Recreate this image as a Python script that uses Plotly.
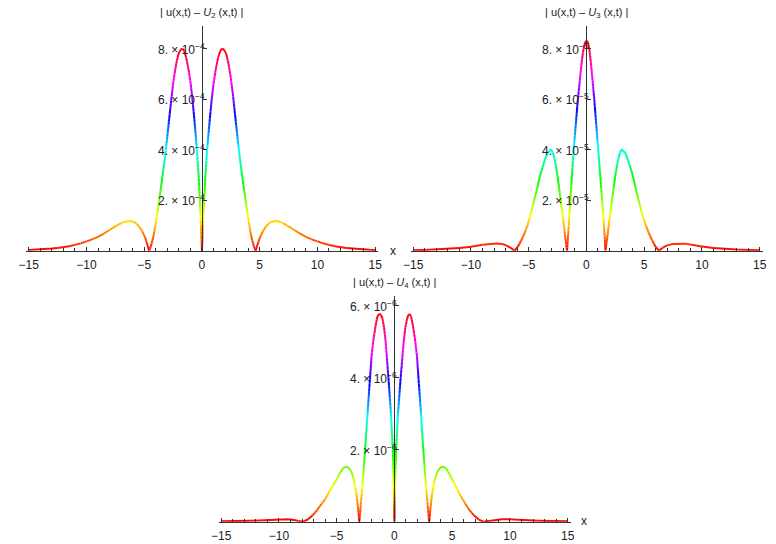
import math
import colorsys
import numpy as np
import plotly.graph_objects as go

W, H = 776, 544

# |u(x,t) - U2(x,t)|, values in units of 1e-4
u2_x = [-15, -14.5, -14, -13.5, -13, -12.5, -12, -11.5, -11, -10.5, -10, -9.5, -9, -8.5, -8, -7.5, -7,
        -6.6, -6.25, -5.9, -5.65, -5.4, -5.15, -4.9, -4.72, -4.58,
        -4.43, -4.23, -4.03, -3.83, -3.63, -3.43, -3.23, -3.03, -2.83, -2.63, -2.43, -2.23, -2.03, -1.83, -1.7,
        -1.55, -1.37, -1.17, -0.97, -0.78, -0.58, -0.44, -0.29, -0.19, -0.1, -0.05, 0,
        0.05, 0.1, 0.2, 0.3, 0.45, 0.6, 0.8, 1.0, 1.2, 1.4, 1.6, 1.75,
        1.9, 2.1, 2.3, 2.5, 2.7, 2.9, 3.1, 3.3, 3.5, 3.7, 3.9, 4.1, 4.3, 4.5, 4.65,
        4.8, 5.0, 5.25, 5.5, 5.75, 6.0, 6.35, 6.7, 7.0,
        7.5, 8, 8.5, 9, 9.5, 10, 10.5, 11, 11.5, 12, 12.5, 13, 13.5, 14, 14.5, 15]
u2_y = [0.03, 0.038, 0.05, 0.065, 0.085, 0.11, 0.14, 0.18, 0.23, 0.29, 0.37, 0.45, 0.55, 0.68, 0.82, 0.96, 1.09,
        1.16, 1.18, 1.14, 1.06, 0.93, 0.75, 0.5, 0.22, 0,
        0.17, 0.5, 1.0, 1.6, 2.25, 2.9, 3.6, 4.4, 5.25, 6.1, 6.85, 7.4, 7.8, 7.97, 8.0,
        7.93, 7.65, 7.2, 6.6, 5.8, 4.8, 4.0, 3.0, 2.1, 1.2, 0.6, 0,
        0.6, 1.2, 2.1, 3.0, 4.0, 4.8, 5.8, 6.6, 7.2, 7.65, 7.93, 8.0,
        7.97, 7.8, 7.4, 6.85, 6.1, 5.25, 4.4, 3.6, 2.9, 2.25, 1.6, 1.0, 0.5, 0.17, 0,
        0.22, 0.5, 0.75, 0.93, 1.06, 1.14, 1.18, 1.15, 1.09,
        0.96, 0.82, 0.68, 0.55, 0.45, 0.37, 0.29, 0.23, 0.18, 0.14, 0.11, 0.085, 0.065, 0.05, 0.038, 0.03]

# |u(x,t) - U3(x,t)|, values in units of 1e-5
u3_x = [-15, -14, -13, -12, -11.5, -11, -10.5, -10, -9.5, -9, -8.5, -8.0, -7.78, -7.3, -6.9, -6.55, -6.22,
        -5.95, -5.65, -5.35, -5.1, -4.8, -4.52, -4.25, -4.0, -3.7, -3.4, -3.1, -3.0, -2.85, -2.7, -2.55,
        -2.4, -2.24, -2.1, -1.95, -1.82, -1.68,
        -1.6, -1.52, -1.39, -1.25, -1.1, -0.92, -0.74, -0.6, -0.45, -0.3, -0.18, -0.05,
        0.05, 0.15, 0.25, 0.35, 0.48, 0.58, 0.68, 0.85, 1.02, 1.2, 1.36, 1.5, 1.58, 1.65,
        1.8, 1.95, 2.1, 2.25, 2.4, 2.55, 2.7, 2.85, 3.0, 3.1, 3.4, 3.7, 4.0, 4.25, 4.52, 4.8, 5.14,
        5.4, 5.7, 6.0, 6.28,
        6.6, 7.0, 7.5, 8.0, 8.5, 9.0, 9.5, 10, 10.5, 11, 11.5, 12, 13, 14, 15]
u3_y = [0.02, 0.03, 0.045, 0.07, 0.085, 0.105, 0.13, 0.16, 0.2, 0.24, 0.27, 0.285, 0.29, 0.27, 0.2, 0.11, 0,
        0.15, 0.4, 0.7, 1.0, 1.5, 2.0, 2.5, 3.0, 3.45, 3.85, 4.0, 3.97, 3.8, 3.5, 3.1,
        2.6, 2.05, 1.55, 1.0, 0.5, 0,
        0.5, 1.1, 2.0, 3.0, 4.0, 5.0, 6.0, 6.6, 7.3, 7.85, 8.15, 8.3,
        8.32, 8.22, 7.98, 7.6, 7.0, 6.5, 6.0, 5.0, 4.0, 2.95, 2.0, 1.15, 0.6, 0,
        0.5, 1.05, 1.6, 2.1, 2.65, 3.1, 3.5, 3.8, 3.97, 4.0, 3.85, 3.45, 3.0, 2.5, 2.0, 1.5, 1.0,
        0.7, 0.4, 0.15, 0,
        0.12, 0.21, 0.27, 0.29, 0.28, 0.25, 0.21, 0.17, 0.14, 0.11, 0.09, 0.07, 0.045, 0.03, 0.02]

# |u(x,t) - U4(x,t)|, values in units of 1e-6
u4_x = [-15, -13.5, -12.5, -11.5, -10.5, -9.9, -9.3, -8.7, -8.3, -7.93,
        -7.5, -7.1, -6.7, -6.3, -6.0, -5.7, -5.4, -5.1, -4.8, -4.5, -4.23, -3.95, -3.7, -3.48, -3.28, -3.13, -3.04,
        -2.92, -2.77, -2.54, -2.33, -2.1, -1.98, -1.84, -1.63, -1.48, -1.35, -1.25, -1.16, -1.04, -0.9, -0.76,
        -0.52, -0.3, -0.14, -0.06, -0.03, 0,
        0.03, 0.06, 0.14, 0.31, 0.54, 0.8, 0.95, 1.1, 1.22, 1.31, 1.45, 1.6, 1.81, 1.95, 2.07, 2.3, 2.5, 2.73,
        2.88, 3.01,
        3.1, 3.25, 3.45, 3.7, 3.95, 4.23, 4.5, 4.8, 5.1, 5.34, 5.6, 5.9, 6.14, 6.5, 6.9, 7.3, 7.7,
        8.2, 8.7, 9.3, 9.9, 10.5, 11.5, 12.5, 13.5, 15]
u4_y = [0.01, 0.015, 0.025, 0.04, 0.06, 0.07, 0.07, 0.05, 0.02, 0,
        0.06, 0.17, 0.32, 0.5, 0.62, 0.8, 0.97, 1.12, 1.3, 1.47, 1.53, 1.5, 1.38, 1.12, 0.75, 0.32, 0,
        0.45, 1.0, 2.0, 3.0, 4.05, 4.6, 5.0, 5.45, 5.7, 5.76, 5.77, 5.75, 5.65, 5.4, 5.0,
        4.0, 3.0, 2.0, 1.0, 0.5, 0,
        0.5, 1.0, 2.0, 3.0, 4.0, 5.0, 5.4, 5.65, 5.75, 5.77, 5.7, 5.45, 5.0, 4.6, 4.05, 3.0, 2.0, 1.0,
        0.45, 0,
        0.32, 0.75, 1.12, 1.38, 1.5, 1.53, 1.47, 1.3, 1.12, 0.97, 0.8, 0.62, 0.5, 0.32, 0.17, 0.06, 0.0,
        0.02, 0.05, 0.07, 0.07, 0.06, 0.04, 0.025, 0.015, 0.01]

x_ticks = [-15, -10, -5, 0, 5, 10, 15]

# panel specs: data, scale, y-axis top, tick mantissas, subscript, origin pixel x, axis bottom/top pixel y
panels = [
    dict(x=u2_x, y=u2_y, scale=1e-4, exp=-4, ytop=8.9e-4, ticks=[2, 4, 6, 8], sub="2",
         ox=197.0, yb=250.7, yt=26.0),
    dict(x=u3_x, y=u3_y, scale=1e-5, exp=-5, ytop=8.9e-5, ticks=[2, 4, 6, 8], sub="3",
         ox=587.5, yb=250.7, yt=26.0),
    dict(x=u4_x, y=u4_y, scale=1e-6, exp=-6, ytop=6.28e-6, ticks=[2, 4, 6], sub="4",
         ox=392.5, yb=521.7, yt=295.7),
]
PX_PER_UNIT = 11.73
XMIN, XMAX = -15.2, 15.25
FONT = "Liberation Sans, Arial, sans-serif"
AXIS_COLOR = "#333333"


def hue_rgb(h):
    r, g, b = colorsys.hsv_to_rgb(min(max(h, 0.0), 1.0) % 1.0, 1.0, 1.0)
    return f"rgb({int(r*255)},{int(g*255)},{int(b*255)})"


def rainbow_traces(xs, ys, xref, yref, nbins=120):
    """Colour the polyline by height (hue 0..1 from min to max), grouping runs by colour."""
    xs = np.asarray(xs, float)
    ys = np.asarray(ys, float)
    lo, hi = ys.min(), ys.max()
    runs = []  # (bin, [xs], [ys])
    for i in range(len(xs) - 1):
        x0, x1, y0, y1 = xs[i], xs[i + 1], ys[i], ys[i + 1]
        h0, h1 = (y0 - lo) / (hi - lo), (y1 - lo) / (hi - lo)
        n = max(1, int(math.ceil(abs(h1 - h0) * 50)))
        for k in range(n):
            t0, t1 = k / n, (k + 1) / n
            hm = h0 + (h1 - h0) * (t0 + t1) / 2
            b = int(round(hm * nbins))
            xa, xb = x0 + (x1 - x0) * t0, x0 + (x1 - x0) * t1
            ya, yb = y0 + (y1 - y0) * t0, y0 + (y1 - y0) * t1
            if runs and runs[-1][0] == b:
                runs[-1][1].append(xb)
                runs[-1][2].append(yb)
            else:
                runs.append((b, [xa, xb], [ya, yb]))
    groups = {}
    for b, rx, ry in runs:
        gx, gy = groups.setdefault(b, ([], []))
        gx.extend(rx + [None])
        gy.extend(ry + [None])
    traces = []
    for b, (gx, gy) in sorted(groups.items()):
        traces.append(go.Scatter(
            x=gx, y=gy, mode="lines",
            line=dict(color=hue_rgb(b / nbins), width=2.0),
            xaxis=xref, yaxis=yref, hoverinfo="skip", showlegend=False,
        ))
    return traces


fig = go.Figure()
annotations = []
layout = dict(
    width=W, height=H, margin=dict(l=0, r=0, t=0, b=0),
    paper_bgcolor="white", plot_bgcolor="white",
    font=dict(family=FONT, size=12, color="#222222"),
    showlegend=False,
)

for i, p in enumerate(panels, start=1):
    sfx = "" if i == 1 else str(i)
    xref, yref = "x" + sfx, "y" + sfx
    yvals = [v * p["scale"] for v in p["y"]]
    for tr in rainbow_traces(p["x"], yvals, xref, yref):
        fig.add_trace(tr)

    x0 = p["ox"] + XMIN * PX_PER_UNIT
    x1 = p["ox"] + XMAX * PX_PER_UNIT
    layout["xaxis" + sfx] = dict(
        domain=[x0 / W, x1 / W], range=[XMIN, XMAX], anchor=yref,
        showline=True, linecolor=AXIS_COLOR, linewidth=1,
        ticks="inside", ticklen=4, tickwidth=1, tickcolor=AXIS_COLOR,
        tickmode="array", tickvals=x_ticks, ticktext=[str(t).replace("-", "\u2212") for t in x_ticks],
        ticklabelstandoff=3,
        minor=dict(tickmode="linear", tick0=0, dtick=1, ticks="inside", ticklen=2.5,
                   tickcolor=AXIS_COLOR, tickwidth=1),
        showgrid=False, zeroline=False, fixedrange=True,
        tickfont=dict(size=12, color="#222222"),
    )
    ydom = [(H - p["yb"]) / H, (H - p["yt"]) / H]
    layout["yaxis" + sfx] = dict(
        domain=ydom, range=[0, p["ytop"]], anchor="free", position=p["ox"] / W,
        showline=True, linecolor=AXIS_COLOR, linewidth=1,
        ticks="inside", ticklen=4, tickwidth=1, tickcolor=AXIS_COLOR,
        tickmode="array", tickvals=[m * p["scale"] for m in p["ticks"]],
        showticklabels=False, showgrid=False, zeroline=False, fixedrange=True,
    )
    # Mathematica-style tick labels "8. × 10^-4" sitting on the vertical axis
    for m in p["ticks"]:
        annotations.append(dict(
            x=0, y=m * p["scale"], xref=xref, yref=yref,
            text=f"{m}. × 10<sup>\u2212{abs(p['exp'])}</sup>",
            showarrow=False, xanchor="right", yanchor="middle", xshift=5,
            font=dict(size=12, color="#222222"),
        ))
    # panel title
    annotations.append(dict(
        x=p["ox"] / W, y=(H - p["yt"] + 13) / H, xref="paper", yref="paper",
        text=f"| u(x,t) \u2013 <i>U</i><sub>{p['sub']}</sub> (x,t) |",
        showarrow=False, xanchor="center", yanchor="middle",
        font=dict(size=11, color="#222222"),
    ))

# axis labels "x"
for px, py in [(391, 251), (585, 521)]:
    annotations.append(dict(
        x=px / W, y=(H - py) / H, xref="paper", yref="paper", text="x",
        showarrow=False, xanchor="center", yanchor="middle",
        font=dict(size=12, color="#222222"),
    ))

layout["annotations"] = annotations
fig.update_layout(**layout)
fig.write_html("out.html", config={"displayModeBar": False})
